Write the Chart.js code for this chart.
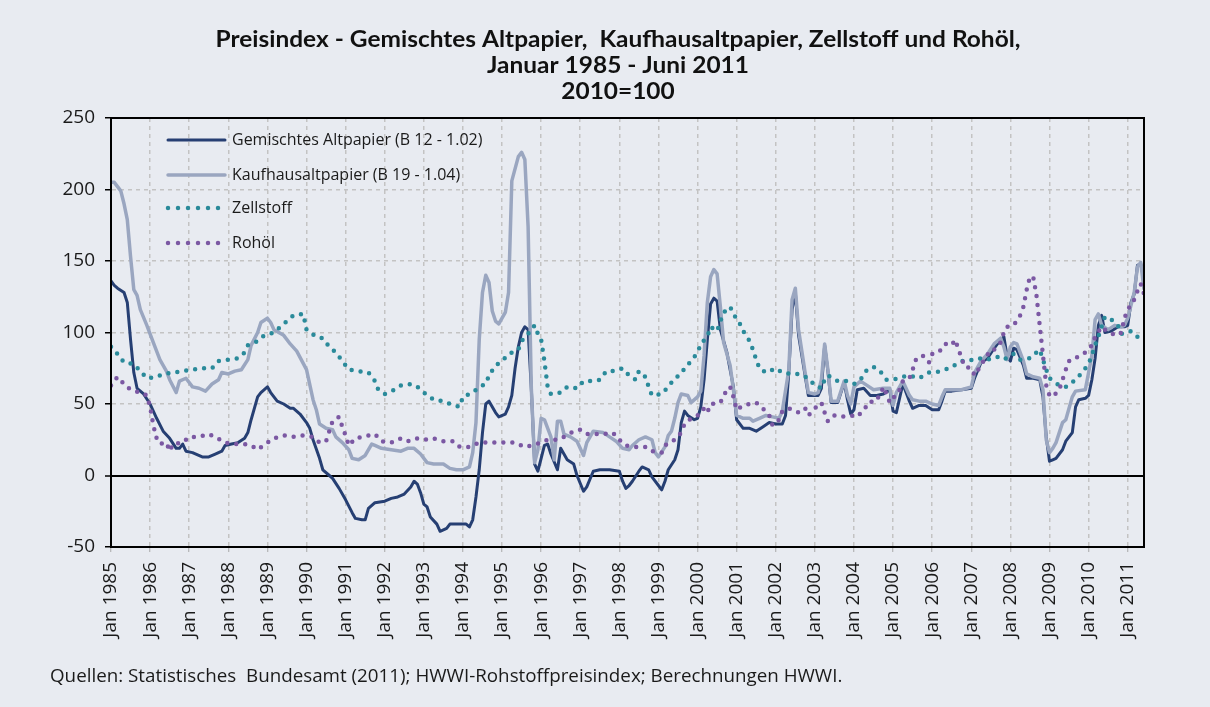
<!DOCTYPE html>
<html>
<head>
<meta charset="utf-8">
<script src="https://cdn.jsdelivr.net/npm/chart.js@4.4.0/dist/chart.umd.min.js"></script>
<style>
  html, body { margin: 0; padding: 0; background: #e8ebf1; }
  #wrap { width: 1210px; height: 707px; }
</style>
</head>
<body>
<div id="wrap"><canvas id="preisChart" width="1210" height="707"></canvas></div>
<script>
// Preisindex Altpapier / Zellstoff / Rohöl, monthly, Jan 1985 = month 0
const titleLines = [
    'Preisindex - Gemischtes Altpapier,  Kaufhausaltpapier, Zellstoff und Rohöl,',
    'Januar 1985 - Juni 2011',
    '2010=100'
];
const sourceNote = 'Quellen: Statistisches  Bundesamt (2011); HWWI-Rohstoffpreisindex; Berechnungen HWWI.';

const years = [1985, 1986, 1987, 1988, 1989, 1990, 1991, 1992, 1993, 1994, 1995, 1996, 1997,
    1998, 1999, 2000, 2001, 2002, 2003, 2004, 2005, 2006, 2007, 2008, 2009, 2010, 2011];
const yTicks = [-50, 0, 50, 100, 150, 200, 250];

const seriesNames = [
    'Gemischtes Altpapier (B 12 - 1.02)',
    'Kaufhausaltpapier (B 19 - 1.04)',
    'Zellstoff',
    'Rohöl'
];

// [month index, value]
const altpapier = [[0,136],[1,133],[2,131],[4,128],[5,121],[6,95],[7,72],[8,61],[10,57],[12,50],[14,40],[16,31],[18,26],[20,19],[21,19],[22,22],[23,17],[25,16],[28,13],[30,13],[32,15],[34,17],[35,21],[37,22],[39,23],[41,26],[42,30],[43,39],[45,55],[46,58],[48,62],[49,58],[51,52],[53,50],[55,47],[56,47],[58,43],[60,37],[61,33],[62,25],[64,12],[65,4],[67,0],[68,-2],[70,-9],[72,-17],[74,-26],[75,-30],[77,-31],[78,-31],[79,-23],[81,-19],[84,-18],[86,-16],[88,-15],[90,-13],[92,-8],[93,-4],[94,-6],[95,-12],[96,-20],[97,-22],[98,-29],[100,-34],[101,-39],[103,-37],[104,-34],[106,-34],[109,-34],[110,-36],[111,-31],[112,-15],[113,4],[114,30],[115,50],[116,52],[118,44],[119,41],[121,43],[122,48],[123,56],[124,75],[125,90],[126,100],[127,104],[128,102],[129,60],[130,8],[131,3],[132,12],[133,21],[134,22],[135,15],[137,4],[138,19],[139,15],[140,11],[142,8],[143,0],[145,-11],[146,-8],[148,3],[150,4],[153,4],[156,3],[157,-4],[158,-9],[159,-7],[160,-4],[162,3],[163,6],[165,4],[166,-1],[168,-7],[169,-10],[170,-4],[171,4],[173,11],[174,18],[175,37],[176,45],[177,42],[179,39],[180,40],[181,48],[182,67],[183,95],[184,120],[185,124],[186,122],[187,102],[189,86],[190,74],[191,62],[192,39],[194,33],[196,33],[198,31],[200,34],[202,37],[204,36],[206,36],[207,42],[208,72],[209,116],[210,128],[211,98],[213,70],[214,56],[216,56],[217,56],[218,61],[219,91],[220,73],[221,51],[223,51],[225,65],[226,53],[227,43],[228,46],[229,60],[231,61],[233,56],[235,56],[237,57],[239,60],[240,45],[241,44],[242,54],[243,64],[245,52],[246,47],[248,49],[250,49],[252,46],[254,46],[255,52],[256,59],[258,59],[261,60],[264,61],[265,68],[267,79],[269,82],[271,89],[273,95],[274,97],[275,83],[276,80],[277,89],[278,88],[280,77],[281,68],[283,68],[285,67],[286,55],[287,27],[288,10],[289,11],[290,12],[292,18],[293,24],[295,30],[296,48],[297,53],[299,54],[300,56],[301,67],[302,82],[303,105],[304,112],[305,100],[307,101],[309,104],[311,104],[312,105],[313,121],[314,127],[315,147],[316,148],[317,137]];

const kaufhaus = [[0,205],[1,205],[3,199],[4,190],[5,179],[6,153],[7,130],[8,126],[9,116],[11,105],[13,93],[15,81],[17,73],[18,67],[20,58],[21,66],[23,68],[25,62],[27,61],[29,59],[31,64],[33,67],[34,72],[36,71],[38,73],[40,74],[42,81],[43,91],[45,100],[46,107],[48,110],[49,107],[50,102],[53,98],[55,92],[57,87],[60,74],[62,53],[63,46],[64,36],[66,33],[68,32],[69,27],[71,23],[73,18],[74,12],[76,11],[78,14],[80,22],[81,21],[83,19],[86,18],[89,17],[91,19],[93,19],[95,15],[97,9],[99,8],[102,8],[104,5],[106,4],[108,4],[110,6],[111,16],[112,37],[113,95],[114,128],[115,140],[116,135],[117,115],[118,108],[119,106],[121,114],[122,128],[123,206],[125,223],[126,226],[127,221],[128,174],[129,60],[130,9],[131,18],[132,40],[133,39],[135,27],[136,11],[137,38],[138,38],[139,29],[141,27],[143,24],[145,14],[146,23],[148,31],[151,30],[153,27],[155,24],[157,19],[159,18],[160,21],[162,25],[164,27],[166,25],[167,16],[168,13],[170,20],[171,28],[172,31],[173,40],[174,51],[175,57],[177,56],[178,51],[180,55],[181,59],[182,84],[183,121],[184,139],[185,144],[186,141],[187,118],[188,93],[190,77],[191,60],[192,42],[194,40],[196,40],[197,38],[199,40],[201,42],[203,41],[205,40],[206,45],[208,74],[209,123],[210,131],[211,102],[213,72],[214,58],[216,57],[217,58],[218,67],[219,92],[220,74],[221,52],[223,52],[225,66],[226,56],[227,50],[228,62],[230,66],[232,63],[234,60],[237,61],[239,61],[240,49],[241,58],[243,66],[245,56],[246,53],[248,52],[250,52],[252,50],[254,49],[255,55],[256,60],[258,60],[261,60],[264,62],[265,72],[267,80],[269,85],[271,92],[273,96],[274,90],[275,81],[276,90],[277,93],[278,92],[280,80],[281,71],[283,69],[285,68],[286,60],[287,25],[288,16],[289,19],[290,23],[292,37],[293,39],[295,55],[296,59],[299,60],[300,72],[301,84],[302,109],[303,113],[304,105],[306,102],[308,105],[310,104],[311,105],[312,110],[313,119],[314,128],[315,146],[316,149],[317,130]];

const zellstoff = [[0,90],[2,85],[4,79],[7,78],[9,73],[11,68],[14,69],[16,71],[19,72],[22,73],[25,74],[28,75],[31,75],[33,80],[36,81],[39,82],[41,86],[42,91],[45,94],[47,98],[50,100],[52,104],[54,108],[56,112],[59,113],[60,102],[63,97],[65,96],[67,90],[69,86],[71,80],[73,74],[76,73],[79,72],[81,66],[82,60],[84,57],[87,60],[89,63],[92,64],[94,62],[96,58],[99,53],[102,52],[104,50],[107,48],[108,55],[111,58],[113,62],[115,64],[116,70],[118,77],[120,80],[122,85],[125,88],[126,94],[128,99],[130,105],[131,99],[132,95],[133,80],[134,62],[135,57],[138,58],[140,62],[143,61],[145,66],[148,66],[150,67],[152,73],[154,73],[157,75],[159,70],[161,67],[162,73],[164,69],[165,62],[166,56],[169,57],[171,62],[173,68],[175,71],[176,75],[178,80],[180,86],[181,92],[183,97],[184,104],[186,101],[187,108],[188,114],[190,118],[191,113],[193,106],[194,101],[196,94],[197,88],[198,81],[199,75],[201,72],[204,75],[206,72],[209,71],[211,71],[214,68],[216,63],[218,61],[219,67],[220,70],[223,66],[226,66],[228,64],[230,67],[232,74],[234,76],[236,73],[238,67],[240,67],[243,69],[245,70],[248,68],[251,72],[253,72],[256,74],[258,76],[261,80],[263,80],[266,82],[269,81],[272,83],[274,81],[277,85],[279,81],[282,82],[284,86],[285,88],[286,81],[287,74],[288,68],[291,63],[293,62],[296,67],[298,72],[300,78],[301,84],[302,91],[303,97],[305,111],[307,109],[309,105],[310,99],[313,101],[315,97]];

const rohoel = [[0,63],[2,69],[4,64],[6,60],[9,58],[11,56],[12,48],[13,35],[14,26],[15,22],[17,23],[18,17],[19,22],[22,23],[24,27],[27,27],[30,29],[32,27],[35,23],[38,22],[41,22],[43,21],[45,18],[48,23],[50,26],[53,28],[56,27],[59,28],[62,27],[64,23],[66,24],[67,31],[68,38],[70,41],[71,34],[72,28],[73,21],[75,26],[79,28],[81,29],[83,24],[86,23],[89,26],[91,24],[94,26],[97,25],[99,26],[102,24],[105,24],[107,20],[110,20],[113,23],[116,23],[121,23],[124,23],[127,20],[129,21],[132,23],[134,25],[137,25],[139,27],[142,31],[144,32],[146,29],[151,29],[154,30],[156,25],[158,21],[161,20],[164,20],[166,17],[169,16],[170,21],[173,25],[175,30],[176,36],[178,40],[181,43],[182,47],[183,44],[184,50],[187,51],[189,60],[190,62],[191,55],[192,46],[194,49],[196,50],[198,51],[200,47],[202,42],[203,35],[205,39],[206,45],[208,47],[211,44],[213,47],[214,42],[216,47],[218,51],[219,44],[220,38],[222,42],[224,41],[227,42],[229,41],[231,46],[233,52],[234,51],[236,56],[237,62],[238,57],[239,51],[240,54],[242,60],[243,66],[245,68],[246,74],[247,81],[249,84],[251,79],[252,85],[254,86],[256,92],[258,91],[259,95],[260,89],[261,82],[262,76],[264,75],[265,70],[267,77],[268,81],[270,88],[271,88],[273,93],[274,100],[275,104],[277,105],[279,112],[280,118],[281,130],[282,139],[283,139],[284,126],[285,105],[286,84],[287,63],[288,56],[289,55],[291,60],[292,67],[293,74],[294,80],[295,82],[297,83],[299,86],[301,91],[302,97],[304,104],[306,100],[309,98],[310,100],[311,110],[312,116],[314,123],[315,129],[316,134],[317,127]];

const BG = '#e8ebf1';
const GRID = '#c3c3c3';
const colors = ['#263f73', '#9aa6c0', '#2a8a9a', '#7b58a3'];

function toXY(pairs) {
    return pairs.map(p => ({ x: p[0], y: p[1] }));
}

// background, title, frame, legend inside plot, source line
const decorations = {
    id: 'decorations',
    beforeDraw(chart) {
        const c = chart.ctx;
        c.save();
        c.fillStyle = BG;
        c.fillRect(0, 0, chart.width, chart.height);
        c.restore();
    },
    afterDatasetsDraw(chart) {
        const c = chart.ctx;
        const a = chart.chartArea;
        c.save();
        // legend
        c.font = '16px "Open Sans"';
        c.textBaseline = 'middle';
        const rows = [22, 57, 90, 125];
        chart.data.datasets.forEach((ds, i) => {
            const y = a.top + rows[i];
            c.beginPath();
            c.strokeStyle = ds.borderColor;
            c.lineWidth = ds.borderWidth;
            c.lineCap = 'round';
            c.setLineDash(ds.borderDash ? [0, 10] : []);
            c.moveTo(a.left + 57, y);
            c.lineTo(a.left + 114, y);
            c.stroke();
            c.setLineDash([]);
            c.fillStyle = '#1a1a1a';
            c.fillText(ds.label, a.left + 121, y);
        });
        // frame
        c.strokeStyle = '#000';
        c.lineWidth = 2;
        c.lineCap = 'butt';
        c.strokeRect(a.left, a.top, a.right - a.left, a.bottom - a.top);
        c.restore();
    },
    afterDraw(chart) {
        const c = chart.ctx;
        c.save();
        c.fillStyle = '#111';
        c.textAlign = 'center';
        c.textBaseline = 'middle';
        c.font = 'bold 22px Lato';
        // the original title face is a narrow bold; fit line 1 to its width
        const sx = 805 / c.measureText(titleLines[0]).width;
        titleLines.forEach((t, i) => {
            c.save();
            c.translate(618, 40 + i * 26);
            c.scale(sx, 1);
            c.fillText(t, 0, 0);
            c.restore();
        });
        c.textAlign = 'left';
        c.font = '18.8px "Open Sans"';
        c.fillStyle = '#1a1a1a';
        c.fillText(sourceNote, 50, 677);
        c.restore();
    }
};

Chart.defaults.font.family = '"Open Sans", sans-serif';

const ctx = document.getElementById('preisChart');
new Chart(ctx, {
    type: 'line',
    data: {
        datasets: [
            {
                label: seriesNames[0], data: toXY(altpapier),
                borderColor: colors[0], borderWidth: 3, order: 4
            },
            {
                label: seriesNames[1], data: toXY(kaufhaus),
                borderColor: colors[1], borderWidth: 3.5, order: 3
            },
            {
                label: seriesNames[2], data: toXY(zellstoff),
                borderColor: colors[2], borderWidth: 4.5, order: 2,
                borderDash: [0, 9], borderCapStyle: 'round'
            },
            {
                label: seriesNames[3], data: toXY(rohoel),
                borderColor: colors[3], borderWidth: 4.5, order: 1,
                borderDash: [0, 9], borderCapStyle: 'round'
            }
        ]
    },
    options: {
        responsive: false,
        animation: false,
        devicePixelRatio: 1,
        layout: { padding: { top: 118, right: 66, bottom: 0, left: 0 } },
        elements: {
            point: { radius: 0 },
            line: { tension: 0, fill: false, borderJoinStyle: 'round' }
        },
        plugins: {
            legend: { display: false },
            title: { display: false },
            tooltip: { enabled: false }
        },
        scales: {
            x: {
                type: 'linear',
                min: 0,
                max: 317,
                afterBuildTicks: s => { s.ticks = years.map((y, i) => ({ value: i * 12 })); },
                afterFit: s => { s.height = 160; },
                ticks: {
                    autoSkip: false,
                    minRotation: 90,
                    maxRotation: 90,
                    padding: 10,
                    color: '#1a1a1a',
                    font: { size: 19 },
                    callback: v => 'Jan ' + years[Math.round(v / 12)]
                },
                grid: {
                    color: g => (g.tick && g.tick.value === 0) ? 'rgba(0,0,0,0)' : GRID,
                    lineWidth: 1.5,
                    tickColor: '#a8a8a8',
                    tickLength: 5,
                    tickWidth: 1,
                    tickBorderDash: []
                },
                border: { color: '#000', width: 2, dash: [4, 4] }
            },
            y: {
                min: -50,
                max: 250,
                afterBuildTicks: s => { s.ticks = yTicks.map(v => ({ value: v })); },
                afterFit: s => { s.width = 111; },
                ticks: {
                    padding: 10,
                    color: '#1a1a1a',
                    font: { size: 19 }
                },
                grid: {
                    color: g => (g.tick && g.tick.value === 0) ? '#000' : GRID,
                    lineWidth: g => (g.tick && g.tick.value === 0) ? 2 : 1.5,
                    tickColor: '#000',
                    tickLength: 6,
                    tickWidth: 1.5,
                    tickBorderDash: []
                },
                border: {
                    color: '#000', width: 2,
                    dash: g => (g.tick && g.tick.value === 0) ? [] : [4, 4]
                }
            }
        }
    },
    plugins: [decorations]
});
</script>
</body>
</html>
